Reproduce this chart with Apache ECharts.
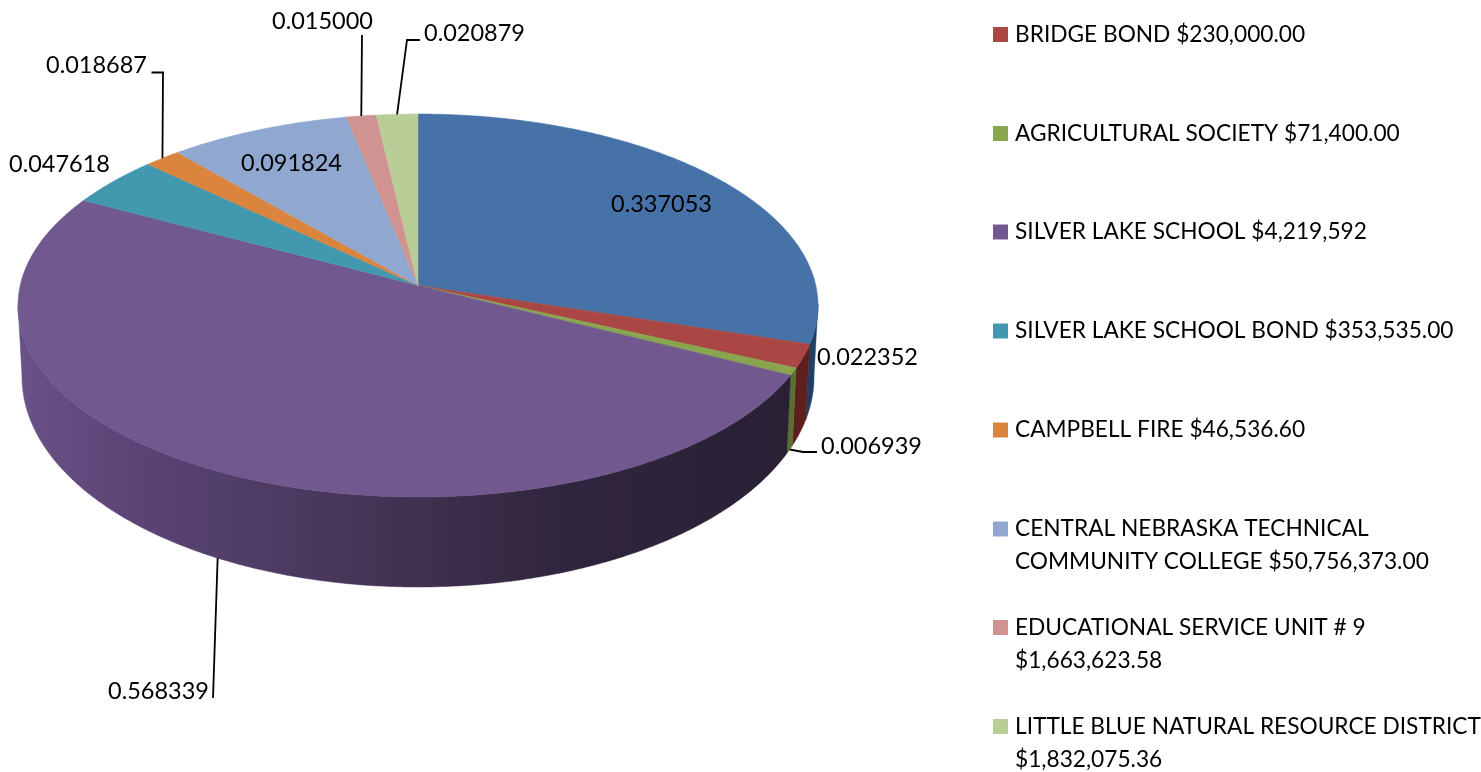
<!DOCTYPE html>
<html>
<head>
<meta charset="utf-8">
<style>html,body{margin:0;padding:0;background:#fff}#chart{width:1481px;height:772px}</style>
<script src="https://cdn.jsdelivr.net/npm/echarts@6/dist/echarts.min.js"></script>
</head>
<body>
<div id="chart"></div>
<script>
const categories = [
  'REAL ESTATE TAX',
  'BRIDGE BOND $230,000.00',
  'AGRICULTURAL SOCIETY $71,400.00',
  'SILVER LAKE SCHOOL $4,219,592',
  'SILVER LAKE SCHOOL BOND $353,535.00',
  'CAMPBELL FIRE $46,536.60',
  'CENTRAL NEBRASKA TECHNICAL\nCOMMUNITY COLLEGE $50,756,373.00',
  'EDUCATIONAL SERVICE UNIT # 9\n$1,663,623.58',
  'LITTLE BLUE NATURAL RESOURCE DISTRICT\n$1,832,075.36'
];
const values = [0.337053, 0.022352, 0.006939, 0.568339, 0.047618, 0.018687, 0.091824, 0.015000, 0.020879];
const labelTexts = ['0.337053','0.022352','0.006939','0.568339','0.047618','0.018687','0.091824','0.015000','0.020879'];
const colors = ['#4672A8','#AA4643','#89A54E','#71588F','#4198AF','#DB843D','#90A8CF','#D19392','#B9CD96'];
const wallColors = ['#1F3F66','#5E1F1F','#5A7030','#2B2238','#2F6E80','#A05F2A','#6B7B97','#986B6A','#87966D'];

const top3d = {cx:418, cy:305.5, rx:400, ry:191.5};
const bottom3d = {cx:418, cy:377, rx:396, ry:210};
const apexShift = 20 / 191;
const total = values.reduce((a,b)=>a+b,0);

// label layout: left edge & middle y of text, leader: slice fraction, rim, and elbows
const labelLayout = [
  {x:611,y:204},
  {x:817,y:357},
  {x:821,y:446, frac:.5, rim:'bottom', elbows:[[803,452],[817,452]]},
  {x:108,y:691, frac:.5, rim:'bottom', elbows:[[213,698]]},
  {x:9,y:164},
  {x:46,y:65, frac:.5, rim:'top', elbows:[[163,72.5],[151.5,72.5]]},
  {x:241,y:163},
  {x:272,y:21, frac:.5, rim:'top', elbows:[[362,35]]},
  {x:424,y:33, frac:.5, rim:'top', elbows:[[407,40],[420,40]]}
];
const legendCenters = [34.5,133.5,232,331,430,529,627.5,726.5];

function project(deg, e){
  const t = deg*Math.PI/180, u = Math.sin(t), v = -Math.cos(t), a = apexShift;
  const d = 1 - a*v;
  const nv = (v - a)/d, nu = u*Math.sqrt(1-a*a)/d;
  return {p:[e.cx + e.rx*nu, e.cy + e.ry*nv], nv};
}
function sliceAngles(i){
  let s = 0;
  for(let k=0;k<i;k++) s += values[k];
  return [s/total*360, (s+values[i])/total*360];
}
const wallGradient = {type:'linear',x:20,y:0,x2:800,y2:0,global:true,colorStops:[
  {offset:0,color:'#6A5288'},{offset:.14,color:'#5C4476'},{offset:.3,color:'#4F3D66'},
  {offset:.5,color:'#41314F'},{offset:.7,color:'#30253E'},{offset:1,color:'#292034'}]};

function renderSlice(i){
  return function(params, api){
    const [a0,a1] = sliceAngles(i);
    const children = [];
    const topPts = [], wallTop = [], wallBottom = [];
    const n = Math.max(2, Math.ceil((a1-a0)*2));
    for(let k=0;k<=n;k++){
      const d = a0+(a1-a0)*k/n;
      const t = project(d, top3d);
      topPts.push(t.p);
      if(t.nv >= -0.01){ wallTop.push(t.p); wallBottom.push(project(d, bottom3d).p); }
    }
    if(wallTop.length>1){
      children.push({type:'polygon',silent:true,shape:{points:wallTop.concat(wallBottom.reverse())},
        style:{fill:i===3?wallGradient:wallColors[i],stroke:i===3?wallGradient:wallColors[i],lineWidth:.5}});
    }
    const ax = top3d.cx, ay = top3d.cy - apexShift*top3d.ry;
    children.push({type:'polygon',silent:true,shape:{points:[[ax,ay]].concat(topPts)},
      style:{fill:colors[i],stroke:colors[i],lineWidth:.5}});
    const l = labelLayout[i];
    if(l.elbows){
      const start = project(a0+(a1-a0)*l.frac, l.rim==='top'?top3d:bottom3d).p;
      children.push({type:'polyline',silent:true,z2:5,shape:{points:[start].concat(l.elbows)},
        style:{fill:null,stroke:'#000',lineWidth:1.8}});
    }
    children.push({type:'text',silent:true,z2:6,x:l.x,y:l.y,
      style:{text:labelTexts[i],fill:'#000',font:'23.5px Lato',verticalAlign:'middle',align:'left'}});
    return {type:'group',children};
  };
}

const series = categories.map((name,i)=>({
  name, type:'custom', coordinateSystem:'none', animation:false, silent:true,
  itemStyle:{color:colors[i]}, data:[[values[i]]], renderItem:renderSlice(i)
}));

const legend = categories.slice(1).map((name,i)=>{
  const two = name.includes('\n');
  return {
    data:[name], left:993, top: legendCenters[i]-(two?49.5:16.5)-1, orient:'vertical', padding:0,
    itemWidth:15, itemHeight:15, icon:'rect', selectedMode:false,
    formatter:n=>n.includes('\n')?'\n'+n:n,
    textStyle:{fontFamily:'Lato',fontSize:22.7,color:'#000',lineHeight:33,padding:[2,0,0,2]}
  };
});

const chart = echarts.init(document.getElementById('chart'),null,{renderer:'canvas'});
chart.setOption({animation:false,backgroundColor:'#fff',legend,series});
</script>
</body>
</html>
